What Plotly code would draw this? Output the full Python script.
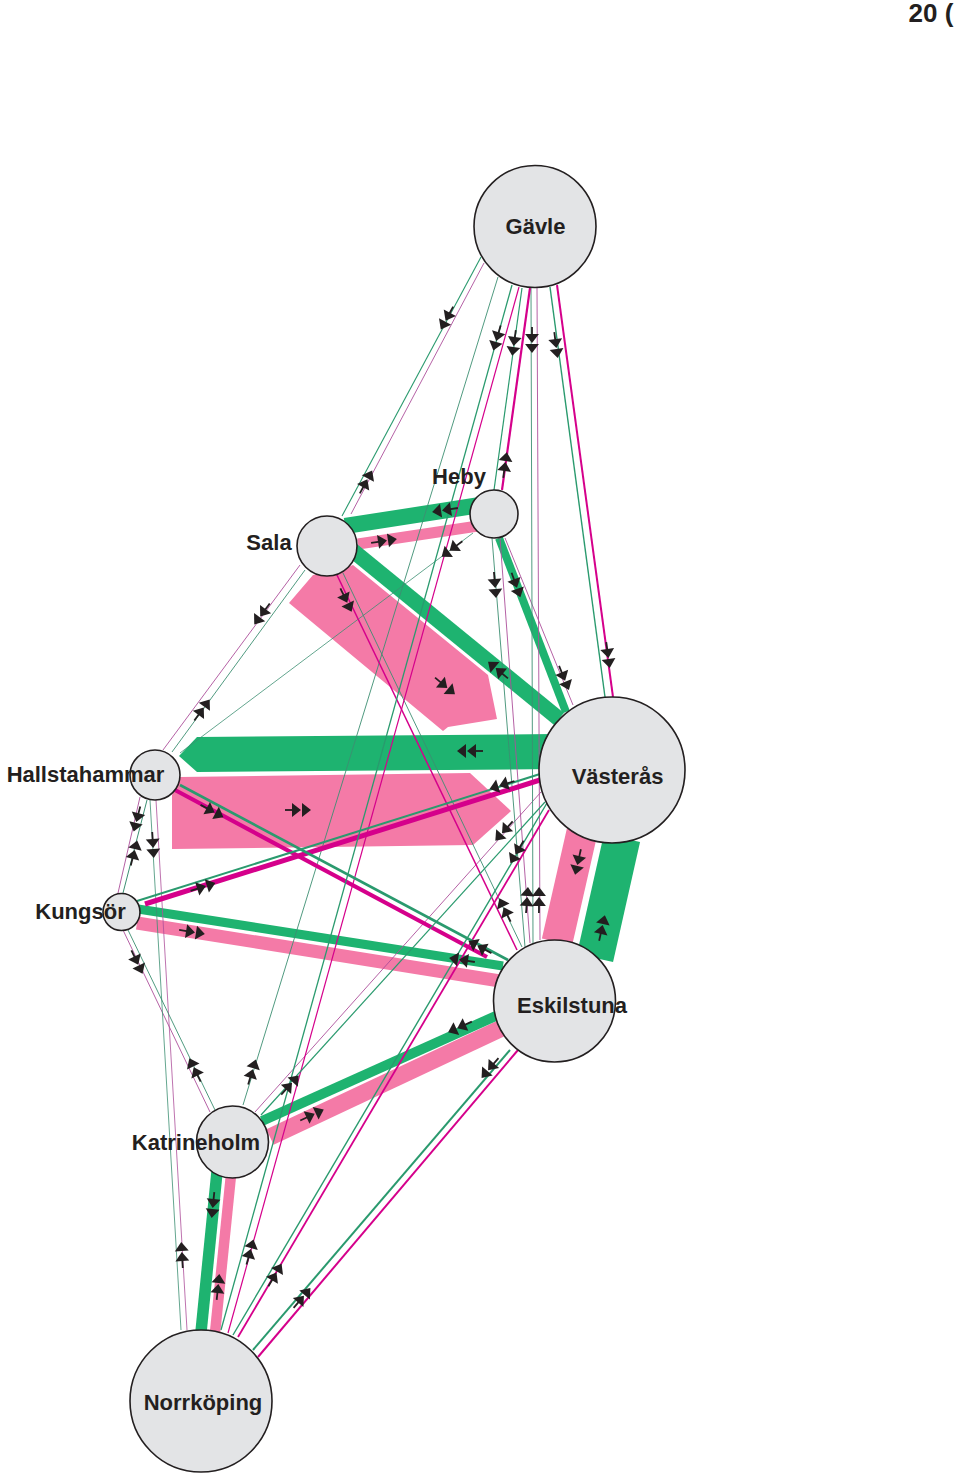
import math
import plotly.graph_objects as go

# nodes
node_names = ["Gävle", "Heby", "Sala", "Hallstahammar", "Västerås", "Kungsör", "Eskilstuna", "Katrineholm", "Norrköping"]
node_x = [535, 494, 327, 155, 612, 121.5, 554.5, 232.5, 201]
node_y = [226.5, 514, 546, 775, 770, 912, 1001, 1142, 1401]
node_r = [61, 24, 30, 25, 73, 18.5, 61, 36, 71]

# labels
label_text = ["Gävle", "Heby", "Sala", "Hallstahammar", "Västerås", "Kungsör", "Eskilstuna", "Katrineholm", "Norrköping", "20 ("]
label_x = [535.5, 459, 269, 85.5, 617.5, 80.5, 572, 196, 203, 931]
label_y = [228, 478, 544, 776, 778, 913, 1007, 1144, 1404, 15]
label_size = [22, 22, 22, 22, 22, 22, 22, 22, 22, 26]

# flow bands: x0, y0, x1, y1, width
green_bands = [
    (345, 526, 480, 505, 16), (352, 550, 559, 719, 15.5), (499, 538, 566, 712, 8),
    (138, 909, 503, 966, 9), (262, 1121, 498, 1015, 10), (217, 1172, 201, 1332, 11.5),
    (622, 838, 595, 958, 37),
]
pink_bands = [
    (358, 544, 478, 526, 11), (137, 923, 500, 981, 13), (270, 1137, 502, 1028, 17),
    (231, 1175, 215, 1333, 10.5), (582, 832, 557, 942, 31),
]
# big flow areas
big_green_x = [179, 197, 555, 555, 197]
big_green_y = [756, 737, 734, 769, 772]
big_pink_x = [172, 172, 180, 470, 511, 473, 172]
big_pink_y = [849, 795, 777, 773, 811, 845, 849]
sala_pink_x = [289, 313, 340, 353, 488, 497, 448, 443]
sala_pink_y = [603, 575, 570, 565, 675, 719, 727, 731]

# medium lines
green_lines = [
    (180, 785, 508, 960, 2.6), (137, 901, 540, 774, 2), (550, 287, 605, 697, 1.4),
    (253, 1350, 510, 1050, 2), (233, 1335, 547, 803, 1.4), (512, 285, 221, 1330, 1.3),
    (261, 1115, 545, 802, 1.2), (481, 257, 342, 516, 1.1), (522, 288, 494, 490, 1.2),
]
magenta_lines = [
    (175, 790, 487, 957, 4.2), (145, 904, 540, 780, 5), (557, 285, 613, 697, 2),
    (530, 288, 502, 490, 2.2), (258, 1357, 518, 1050, 2), (238, 1337, 549, 810, 1.8),
    (336, 573, 517, 950, 1.5), (519, 287, 228, 1333, 1.2),
]
thin_green = [
    (498, 277, 243, 1105, 0.9), (531, 288, 533, 945, 0.9), (492, 538, 525, 947, 0.9),
    (343, 573, 522, 947, 0.9), (305, 570, 172, 752, 0.9), (473, 533, 180, 753, 0.8),
    (147, 800, 123, 893, 1), (150, 800, 181, 1330, 0.8), (128, 930, 215, 1110, 0.9),
]
thin_magenta = [
    (484, 263, 351, 514, 0.9), (537, 288, 540, 940, 0.9), (500, 538, 530, 943, 0.9),
    (505, 538, 573, 705, 0.9), (300, 565, 163, 750, 0.9), (140, 797, 118, 893, 0.9),
    (156, 800, 187, 1330, 0.8), (123, 930, 210, 1112, 0.9), (541, 792, 255, 1112, 0.9),
]

# direction arrows: x, y, dx, dy
arrows = [
    (447, 318, -61, 113), (366, 482, 61, -113), (497, 338, -61, 210), (514, 343, -28, 200),
    (532, 340, 0, 1), (556, 345, 55, 410), (505, 465, 28, -200), (445, 510, -135, 21),
    (384, 541, 120, -18), (452, 549, -293, 220), (346, 600, 181, 377), (495, 585, 33, 409),
    (516, 585, 63, 175), (564, 678, 68, 167), (608, 655, 56, 412), (262, 614, -137, 185),
    (202, 710, 133, -182), (445, 686, 202, 170), (498, 670, -202, -170), (470, 751, -1, 0),
    (298, 810, 1, 0), (212, 811, 312, 167), (480, 947, -328, -175), (502, 785, -403, 127),
    (203, 887, 395, -124), (137, 819, -24, 93), (134, 853, 24, -93), (153, 845, 31, 530),
    (182, 1255, -31, -530), (192, 932, 363, 58), (462, 960, -365, -57), (137, 962, 87, 182),
    (195, 1070, -87, -180), (252, 1072, 255, -828), (290, 1085, 284, -313), (505, 910, -179, -374),
    (504, 831, -286, 320), (517, 852, -314, 532), (275, 1275, 311, -527), (527, 900, 30, -405),
    (539, 900, 3, -652), (578, 862, -25, 110), (602, 928, 27, -120), (460, 1027, -236, 106),
    (312, 1115, 232, -109), (490, 1068, -257, 300), (302, 1298, 260, -307), (213, 1205, -16, 160),
    (218, 1287, 16, -158), (250, 1252, 291, -1046),
]

INK = "#231f20"
GREEN = "#1eb370"
PINK = "#f47aa7"
MAGENTA = "#d5008b"
DARK_GREEN = "#2a9a6e"
SOFT_GREEN = "#3c8f72"
SOFT_MAGENTA = "#ad4f9b"

fig = go.Figure()


def add_poly(xs, ys, color):
    fig.add_trace(go.Scatter(x=xs, y=ys, mode="lines", fill="toself", fillcolor=color,
                             line=dict(width=0, color=color), hoverinfo="skip"))


def add_links(rows, color):
    for x0, y0, x1, y1, w in rows:
        fig.add_trace(go.Scatter(x=[x0, x1], y=[y0, y1], mode="lines",
                                 line=dict(color=color, width=w), hoverinfo="skip"))


add_poly(sala_pink_x, sala_pink_y, PINK)
add_poly(big_pink_x, big_pink_y, PINK)
add_links(pink_bands, PINK)
add_poly(big_green_x, big_green_y, GREEN)
add_links(green_bands, GREEN)
add_links(thin_magenta, SOFT_MAGENTA)
add_links(thin_green, SOFT_GREEN)
add_links(magenta_lines, MAGENTA)
add_links(green_lines, DARK_GREEN)

# arrows
stem_x, stem_y, head_x, head_y, head_a = [], [], [], [], []
for x, y, dx, dy in arrows:
    n = math.hypot(dx, dy)
    ux, uy = dx / n, dy / n
    stem_x += [x - 13 * ux, x - 4 * ux, None]
    stem_y += [y - 13 * uy, y - 4 * uy, None]
    ang = math.degrees(math.atan2(ux, -uy))
    for d in (-3, 7):
        head_x.append(x + d * ux)
        head_y.append(y + d * uy)
        head_a.append(ang)
fig.add_trace(go.Scatter(x=stem_x, y=stem_y, mode="lines", line=dict(color=INK, width=1.8), hoverinfo="skip"))
fig.add_trace(go.Scatter(x=head_x, y=head_y, mode="markers",
                         marker=dict(symbol="triangle-up", size=12, opacity=1, color=INK, angle=head_a, line=dict(width=0)),
                         hoverinfo="skip"))

# nodes: marker size is a diameter in pixels, axes are 1:1 with pixels
fig.add_trace(go.Scatter(x=node_x, y=node_y, mode="markers",
                         marker=dict(symbol="circle", size=[2 * r for r in node_r], sizemode="diameter", opacity=1,
                                     color="#e3e4e6", line=dict(color=INK, width=1.6)),
                         text=node_names, hoverinfo="text"))

fig.add_trace(go.Scatter(x=label_x, y=label_y, mode="text", text=label_text, textposition="middle center",
                         textfont=dict(family="Liberation Sans", size=label_size, color=INK, weight="bold"),
                         hoverinfo="skip"))

fig.update_layout(width=960, height=1477, autosize=False, showlegend=False,
                  margin=dict(l=0, r=0, t=0, b=0), paper_bgcolor="white", plot_bgcolor="white",
                  xaxis=dict(range=[0, 960], visible=False, fixedrange=True),
                  yaxis=dict(range=[1477, 0], visible=False, fixedrange=True))
fig.write_html("out.html", post_script="document.body.style.margin='0';document.body.style.overflow='hidden';",
               config={"displayModeBar": False})
